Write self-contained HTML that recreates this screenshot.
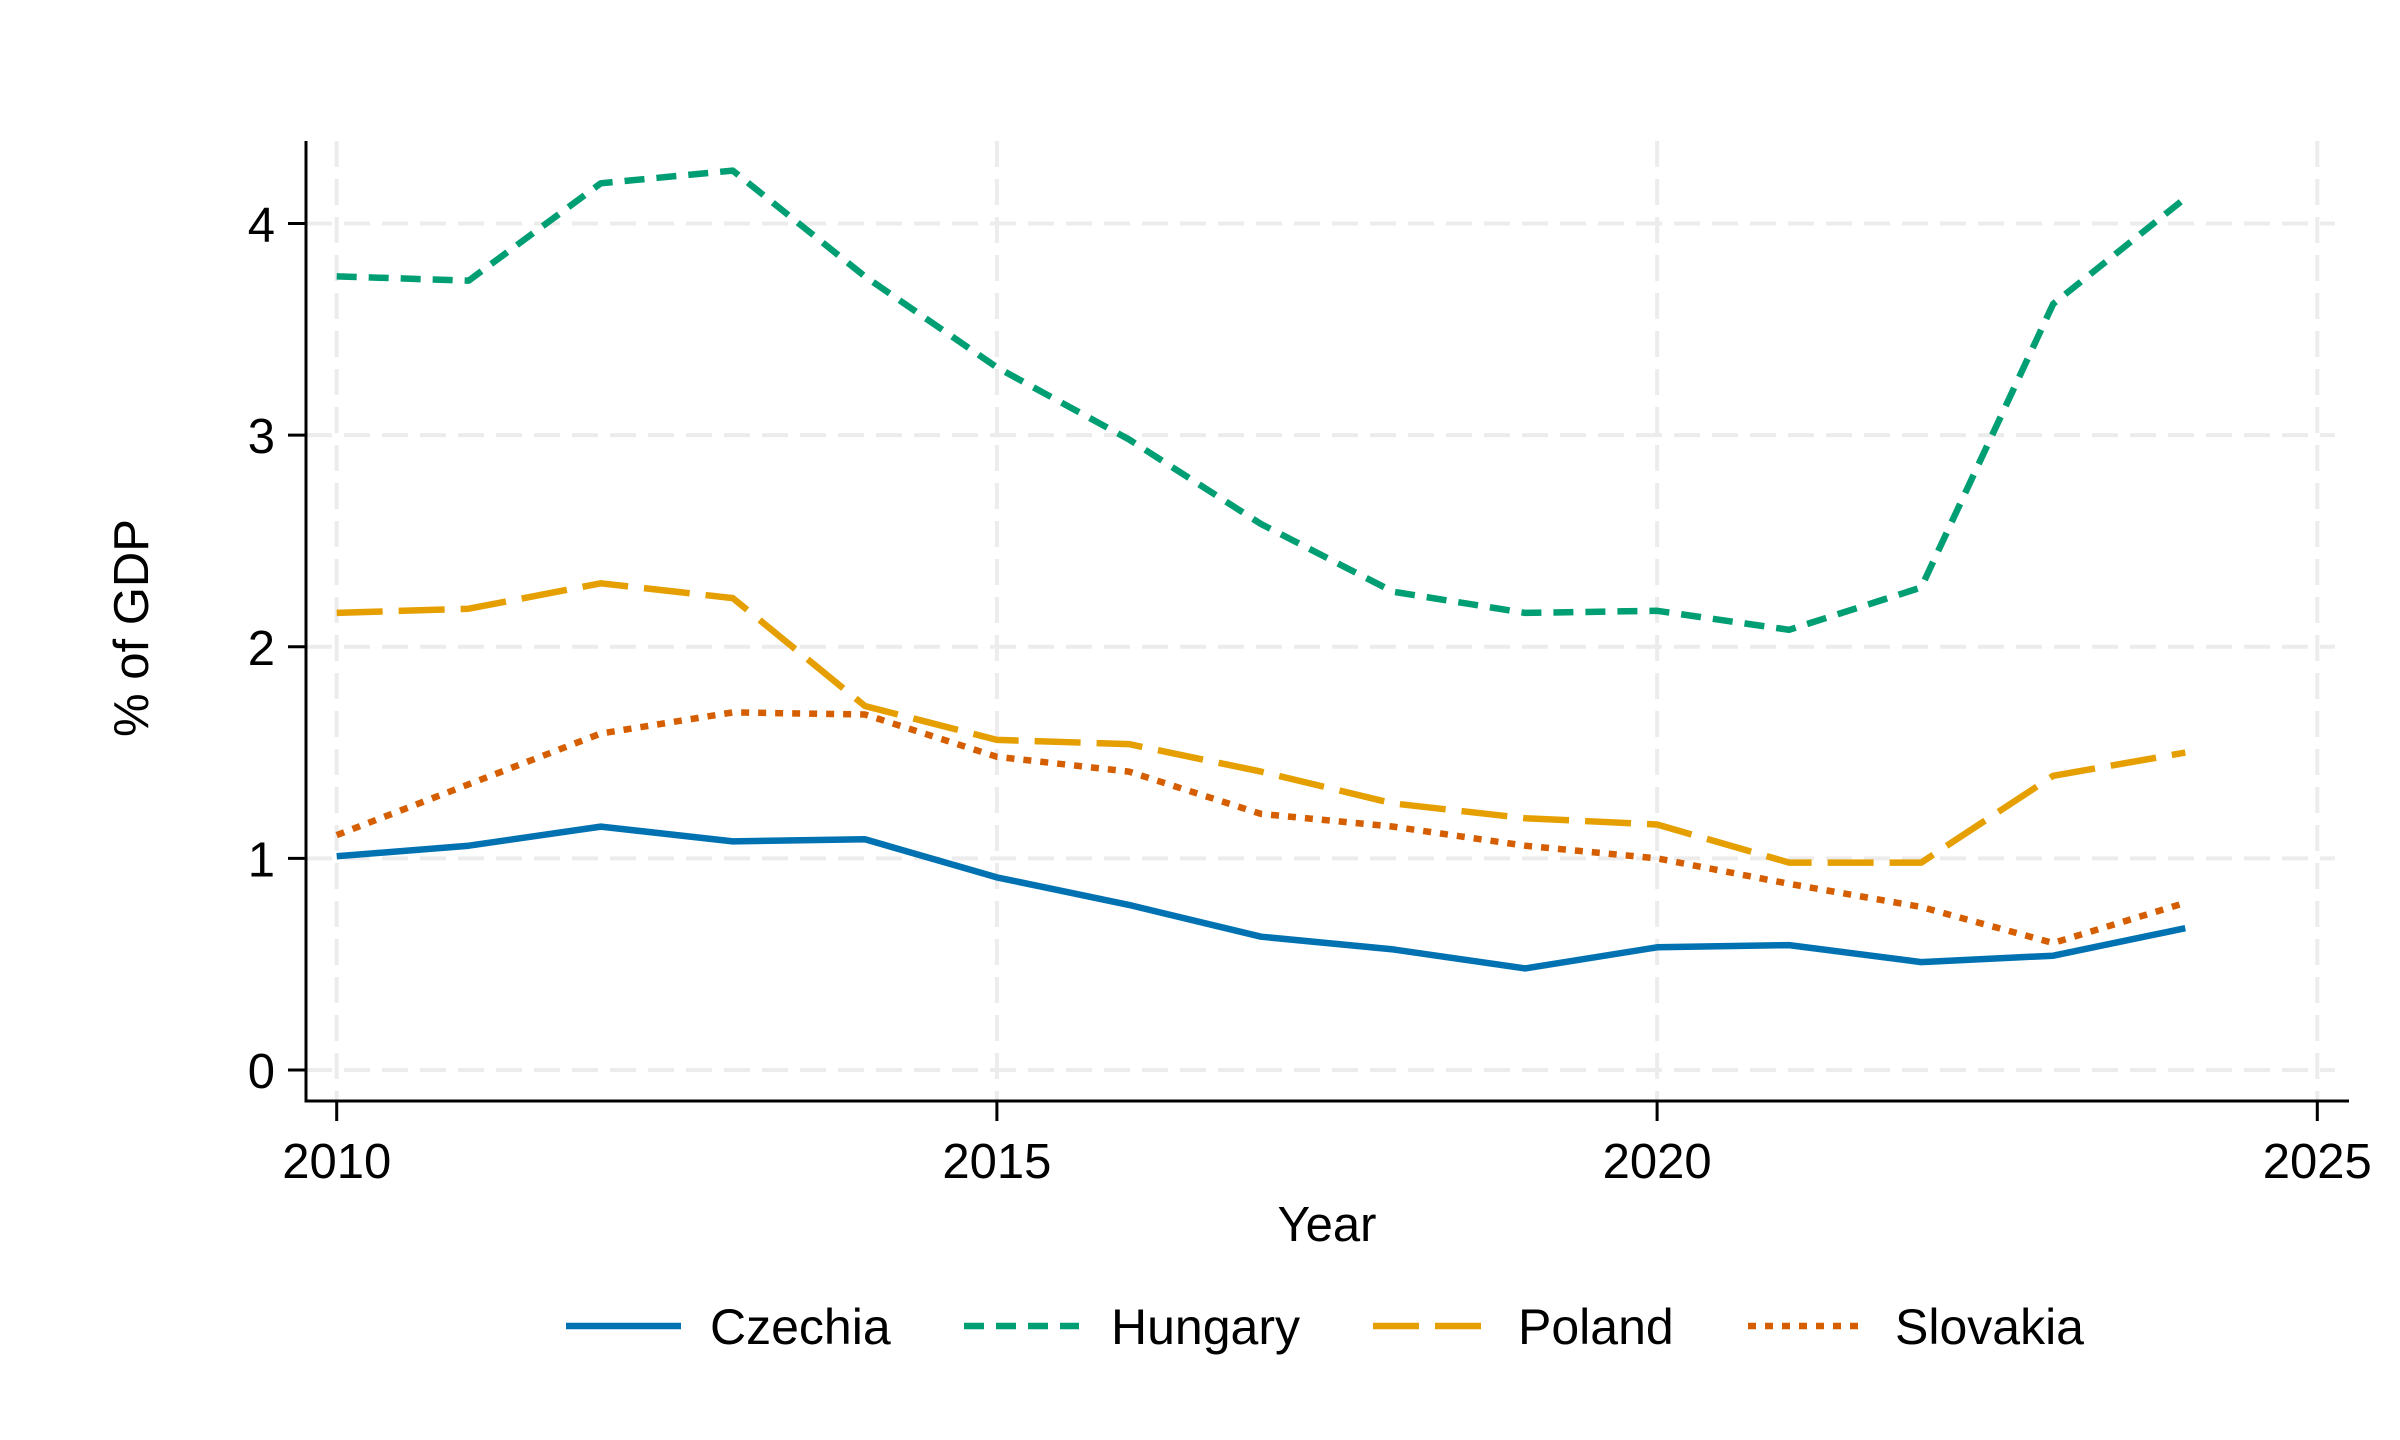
<!DOCTYPE html>
<html><head><meta charset="utf-8"><style>
html,body{margin:0;padding:0;background:#fff;}
svg{display:block;font-family:"Liberation Sans",Arial,sans-serif;}
</style></head><body>
<svg id="chart" width="2400" height="1440" viewBox="0 0 2400 1440">
<rect width="2400" height="1440" fill="#fff"/>
<g id="grid"></g>
<g id="axes"></g>
<g id="series"></g>
<g id="legend"></g>
<text x="135" y="628" font-size="49" text-anchor="middle" dominant-baseline="middle" transform="rotate(-90 135 628)">% of GDP</text>
<text x="1327" y="1241" font-size="49" text-anchor="middle">Year</text>
</svg>
<script>
const years = [2010,2011,2012,2013,2014,2015,2016,2017,2018,2019,2020,2021,2022,2023,2024];
const czechia  = [1.01,1.06,1.15,1.08,1.09,0.91,0.78,0.63,0.57,0.48,0.58,0.59,0.51,0.54,0.67];
const hungary  = [3.75,3.73,4.19,4.25,3.75,3.32,2.98,2.58,2.26,2.16,2.17,2.08,2.28,3.62,4.12];
const poland   = [2.16,2.18,2.30,2.23,1.72,1.56,1.54,1.41,1.26,1.19,1.16,0.98,0.98,1.39,1.50];
const slovakia = [1.11,1.35,1.59,1.69,1.68,1.48,1.41,1.21,1.15,1.06,1.00,0.88,0.77,0.60,0.79];
const xTicks = [2010,2015,2020,2025];
const yTicks = [0,1,2,3,4];
const seriesNames = ["Czechia","Hungary","Poland","Slovakia"];

const NS="http://www.w3.org/2000/svg";
const X0=336.7, X1=2317.3, Y0=1070, Y4=223.5;
function xs(v){return X0+(v-2010)*(X1-X0)/15;}
function ys(v){return Y0+(v)*(Y4-Y0)/4;}
function mk(tag,attrs,parent){const e=document.createElementNS(NS,tag);for(const k in attrs)e.setAttribute(k,attrs[k]);parent.appendChild(e);return e;}

const grid=document.getElementById('grid'), axes=document.getElementById('axes');
yTicks.forEach(t=>{
  const l=mk('line',{x1:306,x2:2335,y1:ys(t),y2:ys(t),stroke:'#ececec','stroke-width':4,'stroke-dasharray':'26 12'},grid);
  
  
  const tk=mk('line',{x1:288,x2:306,y1:ys(t),y2:ys(t),stroke:'#000','stroke-width':3},axes);
  
  
  const tx=mk('text',{x:275,y:ys(t)+18,'font-size':49,'text-anchor':'end'},axes);
  tx.textContent=t;
  
  
});
xTicks.forEach(t=>{
  const l=mk('line',{x1:xs(t),x2:xs(t),y1:141,y2:1100,stroke:'#ececec','stroke-width':4,'stroke-dasharray':'26 12'},grid);
  
  
  const tk=mk('line',{x1:xs(t),x2:xs(t),y1:1101,y2:1121,stroke:'#000','stroke-width':3},axes);
  
  
  const tx=mk('text',{x:xs(t),y:1178,'font-size':49,'text-anchor':'middle'},axes);
  tx.textContent=t;
  
  
});
const ya=mk('line',{x1:306,x2:306,y1:141,y2:1102.5,stroke:'#000','stroke-width':3},axes);


const xa=mk('line',{x1:304.5,x2:2349,y1:1101,y2:1101,stroke:'#000','stroke-width':3},axes);



const colors=['#0072b2','#009e73','#e69f00','#d55e00'];
const dashes=['none','20 12','46 16','8 9'];
const data=[czechia,hungary,poland,slovakia];
const sg=document.getElementById('series'), lg=document.getElementById('legend');
const legX=[566,964,1373,1748], legTX=[710,1111,1518,1895];
data.forEach((vals,i)=>{
  const d=vals.map((v,j)=>(j?'L':'M')+xs(years[j]).toFixed(1)+' '+ys(v).toFixed(1)).join(' ');
  const p=mk('path',{d:d,fill:'none',stroke:colors[i],'stroke-width':6.5,'stroke-dasharray':dashes[i],'stroke-linejoin':'round'},sg);
  
  
  const ll=mk('line',{x1:legX[i],x2:legX[i]+115,y1:1326,y2:1326,stroke:colors[i],'stroke-width':6.5,'stroke-dasharray':dashes[i]},lg);
  
  
  const lt=mk('text',{x:legTX[i],y:1344,'font-size':50},lg);
  lt.textContent=seriesNames[i];
  
  
});
</script>
</body></html>
